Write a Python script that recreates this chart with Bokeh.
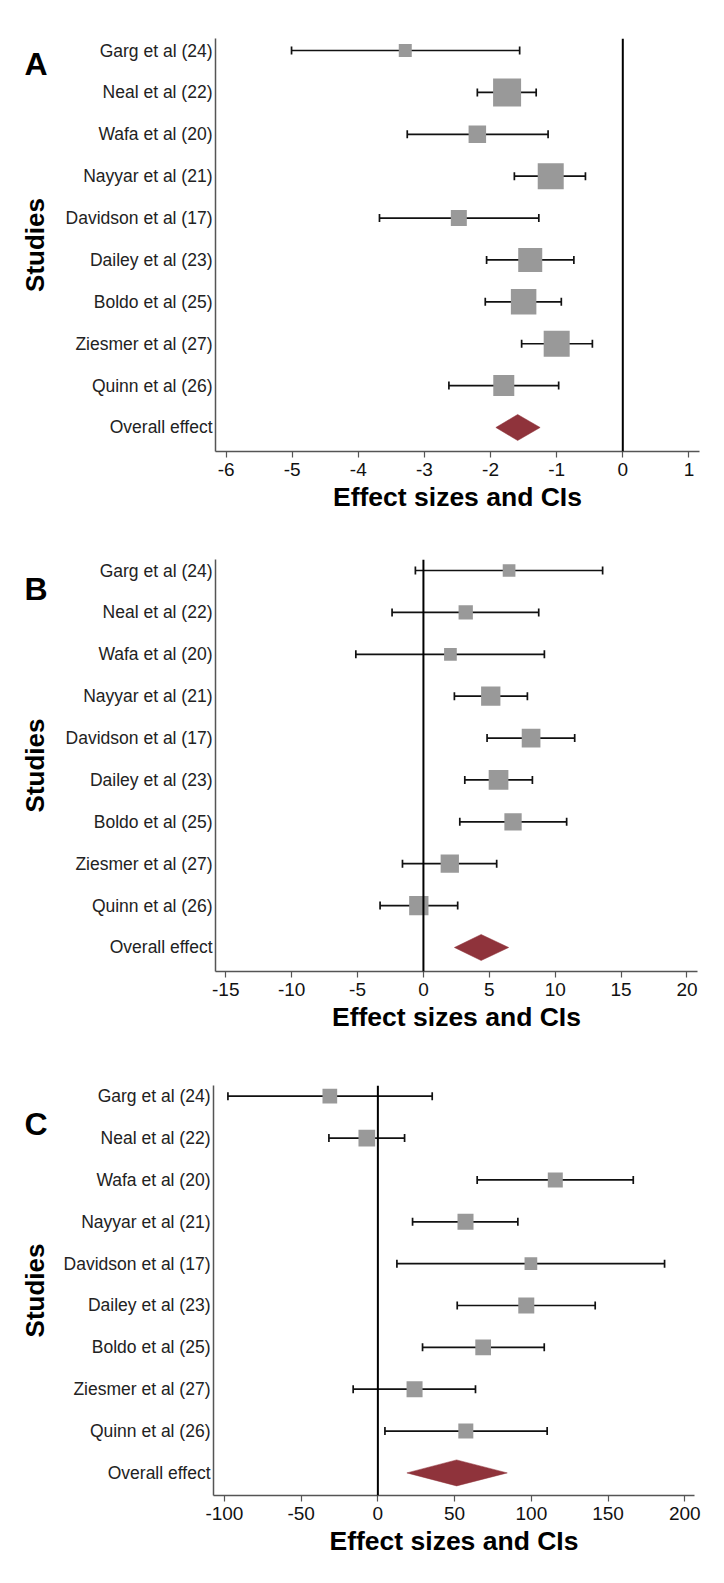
import numpy as np
from bokeh.plotting import figure
from bokeh.models import Range1d, FixedTicker, Span, ColumnDataSource
from bokeh.layouts import column, row
from bokeh.core.properties import value
from bokeh.embed import file_html
from bokeh.resources import INLINE

# ---------------- data ----------------
studies = ["Garg et al (24)", "Neal et al (22)", "Wafa et al (20)", "Nayyar et al (21)",
           "Davidson et al (17)", "Dailey et al (23)", "Boldo et al (25)",
           "Ziesmer et al (27)", "Quinn et al (26)"]
overall_label = "Overall effect"
x_title = "Effect sizes and CIs"
y_title = "Studies"

# Panel A
A_est = [-3.29, -1.75, -2.20, -1.09, -2.48, -1.40, -1.50, -1.00, -1.80]
A_lo = [-5.01, -2.20, -3.26, -1.64, -3.68, -2.06, -2.08, -1.53, -2.63]
A_hi = [-1.56, -1.31, -1.13, -0.565, -1.27, -0.74, -0.93, -0.46, -0.97]
A_weight = [13, 28, 17.5, 26, 16, 24, 25.5, 26, 21]
A_overall = [-1.59, -1.92, -1.25]          # estimate, lower, upper
A_ticks = [-6, -5, -4, -3, -2, -1, 0, 1]
A_tick_labels = ["-6", "-5", "-4", "-3", "-2", "-1", "0", "1"]

# Panel B
B_est = [6.5, 3.21, 2.05, 5.11, 8.17, 5.7, 6.8, 2.0, -0.35]
B_lo = [-0.61, -2.38, -5.13, 2.35, 4.83, 3.14, 2.76, -1.59, -3.29]
B_hi = [13.6, 8.75, 9.18, 7.89, 11.48, 8.27, 10.87, 5.56, 2.6]
B_weight = [12.7, 14.3, 12.7, 19.3, 18.7, 19.7, 17.3, 18.3, 19.3]
B_overall = [4.38, 2.35, 6.47]
B_ticks = [-15, -10, -5, 0, 5, 10, 15, 20]
B_tick_labels = ["-15", "-10", "-5", "0", "5", "10", "15", "20"]

# Panel C
C_est = [-31.3, -7.2, 115.6, 57.1, 99.7, 96.7, 68.6, 23.9, 57.3]
C_lo = [-97.7, -31.9, 64.7, 22.6, 12.4, 51.7, 29.1, -16.1, 4.6]
C_hi = [35.4, 17.4, 166.4, 91.2, 186.8, 141.6, 108.4, 63.6, 110.3]
C_weight = [14.7, 16.7, 15, 16, 12.7, 16, 15.7, 16, 15]
C_overall = [51.3, 18.9, 84.3]
C_ticks = [-100, -50, 0, 50, 100, 150, 200]
C_tick_labels = ["-100", "-50", "0", "50", "100", "150", "200"]

FONT = "Liberation Sans"
ROW_PX = 41.85
TOTAL_W = 724
SIDE_W = 50


def side_panel(letter, height, b_top, b_bottom, letter_pos_from_top):
    """Narrow strip left of the main plot holding the panel letter and the y title.
    Its y data units are 'pixels from the top of the strip' (negated)."""
    s = figure(width=SIDE_W, height=height, output_backend="svg", toolbar_location=None,
               x_range=Range1d(0, SIDE_W), y_range=Range1d(-(height - b_bottom), -b_top),
               x_axis_location=None, y_axis_location=None,
               min_border_left=0, min_border_right=0,
               min_border_top=b_top, min_border_bottom=b_bottom)
    s.outline_line_color = None
    s.grid.visible = False
    frame_mid = -(b_top + (height - b_top - b_bottom) / 2.0)
    s.text(x=[34], y=[frame_mid], text=[y_title], angle=np.pi / 2,
           text_font=value(FONT), text_font_style="bold", text_font_size="26px",
           text_align="center", text_baseline="middle", text_color="black")
    s.text(x=[24], y=[-letter_pos_from_top], text=[letter],
           text_font=value(FONT), text_font_style="bold", text_font_size="32px",
           text_align="left", text_baseline="alphabetic", text_color="black")
    return s


def make_panel(est, lo, hi, weight, overall, ticks, tick_labels,
               xr, yr, height, b_left, b_right, b_top, b_bottom):
    p = figure(width=TOTAL_W - SIDE_W, height=height, output_backend="svg", toolbar_location=None,
               x_range=Range1d(*xr), y_range=Range1d(*yr),
               min_border_left=b_left - SIDE_W, min_border_right=b_right,
               min_border_top=b_top, min_border_bottom=b_bottom)
    p.outline_line_color = None
    p.grid.visible = False

    n = len(studies)
    ys = list(range(n, 0, -1))  # Garg at top, overall at 0
    src = ColumnDataSource(dict(y=ys, est=est, lo=lo, hi=hi, w=weight))

    # zero line
    p.add_layout(Span(location=0, dimension="height", line_color="black", line_width=2))

    # whiskers + caps
    p.segment(x0="lo", x1="hi", y0="y", y1="y", source=src, line_color="#111111", line_width=1.7)
    for col in ("lo", "hi"):
        p.scatter(x=col, y="y", source=src, marker="dash", angle=np.pi / 2, size=8,
                  line_color="#111111", line_width=1.7)
    # weight squares
    p.scatter(x="est", y="y", source=src, marker="square", size="w",
              fill_color="#999999", line_color=None)

    # overall diamond
    h = 13.0 / ROW_PX
    p.patch(x=[overall[1], overall[0], overall[2], overall[0]],
            y=[0, h, 0, -h], fill_color="#8f333b", line_color="#8f333b", line_width=0.5)

    # x axis
    xa = p.xaxis[0]
    xa.ticker = FixedTicker(ticks=ticks)
    xa.major_label_overrides = {t: l for t, l in zip(ticks, tick_labels)}
    xa.minor_tick_line_color = None
    xa.major_tick_out = 6
    xa.major_tick_in = 0
    xa.axis_line_color = "#555555"
    xa.axis_line_width = 1.5
    xa.major_tick_line_color = "#555555"
    xa.major_tick_line_width = 1.2
    xa.major_label_text_font = FONT
    xa.major_label_text_font_size = "19px"
    xa.major_label_text_color = "#111111"
    xa.major_label_standoff = 5
    xa.axis_label = x_title
    xa.axis_label_text_font = FONT
    xa.axis_label_text_font_style = "bold"
    xa.axis_label_text_font_size = "26.5px"
    xa.axis_label_text_color = "black"
    xa.axis_label_standoff = 3

    # y axis (studies)
    ya = p.yaxis[0]
    yticks = ys + [0]
    ylabels = studies + [overall_label]
    ya.ticker = FixedTicker(ticks=yticks)
    ya.major_label_overrides = {t: l for t, l in zip(yticks, ylabels)}
    ya.minor_tick_line_color = None
    ya.major_tick_line_color = None
    ya.major_tick_out = 0
    ya.major_tick_in = 0
    ya.axis_line_color = "#555555"
    ya.axis_line_width = 1.5
    ya.major_label_text_font = FONT
    ya.major_label_text_font_size = "17.5px"
    ya.major_label_text_color = "#222222"
    ya.major_label_standoff = 3
    return p


pA = make_panel(A_est, A_lo, A_hi, A_weight, A_overall, A_ticks, A_tick_labels,
                xr=(-6.16, 1.16), yr=(-0.573, 9.287), height=529,
                b_left=215, b_right=25, b_top=38, b_bottom=78)
sA = side_panel("A", 529, 38, 78, 63)

pB = make_panel(B_est, B_lo, B_hi, B_weight, B_overall, B_ticks, B_tick_labels,
                xr=(-15.78, 20.8), yr=(-0.573, 9.263), height=520,
                b_left=215, b_right=27, b_top=30, b_bottom=78)
sB = side_panel("B", 520, 30, 78, 59)

pC = make_panel(C_est, C_lo, C_hi, C_weight, C_overall, C_ticks, C_tick_labels,
                xr=(-107.1, 206.3), yr=(-0.54, 9.256), height=518,
                b_left=213, b_right=30, b_top=36, b_bottom=72)
sC = side_panel("C", 518, 36, 72, 74)

layout = column(row(sA, pA, spacing=0), row(sB, pB, spacing=0), row(sC, pC, spacing=0), spacing=0)
open("out.html", "w").write(file_html(layout, INLINE))
